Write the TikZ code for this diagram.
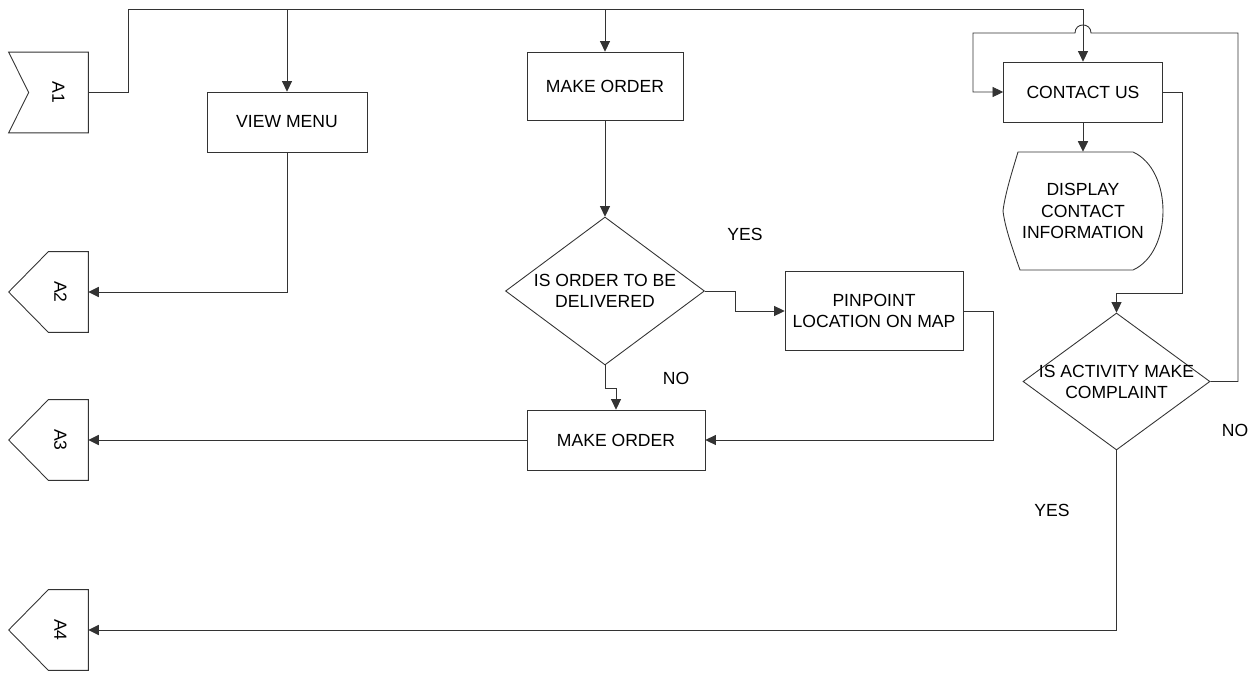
\documentclass[tikz,border=0pt]{standalone}
\usepackage{fontspec}
\setmainfont{Liberation Sans}
\usetikzlibrary{arrows.meta,calc,shapes.geometric}
\definecolor{edge}{HTML}{333333}

\begin{document}
\begin{tikzpicture}[x=0.02cm,y=-0.02cm,line join=miter,>={Triangle[length=6pt,width=5.8pt]},
    font=\fontsize{10}{12}\selectfont,
    line/.style={draw=edge,line width=0.5pt},
    arr/.style={line,->},
    box/.style={line,rectangle,inner sep=0pt,align=center},
    decision/.style={line,diamond,inner sep=0pt},
    offpage/.style={rectangle,inner sep=0pt,minimum width=1.58cm,minimum height=1.6cm}]
  \useasboundingbox (0,0) rectangle (1259,676);

  % Off-page connectors.
  \node[offpage] (a1) at (48.5,92.5) {};
  \draw[line] (a1.north west) -- (a1.north east) -- (a1.south east) -- (a1.south west)
    -- ($(a1.west)+(20,0)$) -- cycle;
  \node[rotate=-90] (a1 text) at ($(a1)+(10,0)$) {A1};
  \foreach \n/\y in {2/292,3/440,4/630} {
    \node[offpage] (a\n) at (48.5,\y) {};
    \draw[line] (a\n.north east) -- (a\n.south east) -- ($(a\n.south east)+(-40,0)$)
      -- (a\n.west) -- ($(a\n.north east)+(-40,0)$) -- cycle;
    \node[rotate=-90] (a\n text) at ($(a\n)+(12,0)$) {A\n};
  }

  % Process boxes.
  \node[box,minimum width=3.2cm,minimum height=1.2cm] (view) at (287,122) {VIEW MENU};
  \node[box,minimum width=3.12cm,minimum height=1.36cm] (order) at (605,86) {MAKE ORDER};
  \node[box,minimum width=3.18cm,minimum height=1.2cm] (contact) at (1083,92) {CONTACT US};
  \node[box,minimum width=3.56cm,minimum height=1.58cm] (pinpoint) at (874,311)
    {PINPOINT\\LOCATION ON MAP};
  \node[box,minimum width=3.56cm,minimum height=1.2cm] (order2) at (616,440) {MAKE ORDER};

  % Decisions.
  \node[decision,minimum width=3.98cm,minimum height=2.96cm,
    label={[align=center]center:IS ORDER TO BE\\DELIVERED}] (deliver) at (605,291) {};
  \node[decision,minimum width=3.74cm,minimum height=2.74cm,
    label={[align=center]center:IS ACTIVITY MAKE\\COMPLAINT}] (complaint) at (1116.5,381.5) {};

  % Display shape.
  \node[rectangle,inner sep=0pt,minimum width=3.2cm,minimum height=2.36cm,align=center]
    (display) at (1083,211) {DISPLAY\\CONTACT\\INFORMATION};
  \draw[line] (1018,152) -- (1133,152) .. controls (1173,170) and (1173,252) .. (1133,270)
    -- (1020,270) .. controls (1013,250) and (1005,228) .. (1003,211)
    .. controls (1005,194) and (1012,172) .. (1018,152) -- cycle;

  % Top bus from A1.
  \coordinate (bus) at (128,9);
  \draw[arr] (a1.east) -| (bus) -| (contact.north);
  \draw[arr] (view.north |- bus) -- (view.north);
  \draw[arr] (order.north |- bus) -- (order.north);

  % Order branch.
  \draw[arr] (order.south) -- (deliver.north);
  \draw[arr] (deliver.east) -- (735,291) |- (pinpoint.west);
  \draw[arr] (deliver.south) -- (605,388) -| (order2.north);
  \draw[arr] (pinpoint.east) -- (993,311) |- (order2.east);
  \draw[arr] (order2.west) -- (a3.east);
  \draw[arr] (view.south) |- (a2.east);

  % Contact branch.
  \draw[arr] (contact.south) -- (display.north);
  \draw[arr] (contact.east) -| (1182,293) -| (complaint.north);
  \draw[arr] (complaint.east) -| (1238,33) -- (1091,33)
    .. controls (1091,22.3) and (1075,22.3) .. (1075,33) -- (973,33) |- (contact.west);
  \draw[arr] (complaint.south) |- (a4.east);

  \node (yes1) at (745,234) {YES};
  \node (no1) at (676,378) {NO};
  \node (yes2) at (1052,510) {YES};
  \node (no2) at (1235,430) {NO};
\end{tikzpicture}
\end{document}
